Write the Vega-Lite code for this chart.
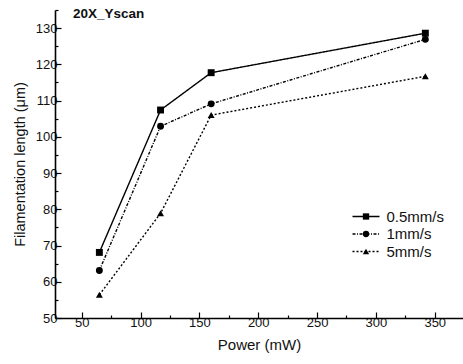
{
  "$schema": "https://vega.github.io/schema/vega-lite/v6.json",
  "width": 408,
  "height": 308,
  "autosize": {"type": "none"},
  "padding": {"left": 55, "top": 10, "right": 0, "bottom": 46},
  "background": "white",
  "config": {"view": {"stroke": null}, "font": "Liberation Sans"},
  "title": {"text": "20X_Yscan", "anchor": "start", "frame": "group", "offset": -11, "dx": 18, "fontSize": 13.5, "fontWeight": "bold", "font": "Liberation Sans", "color": "#111"},
  "data": {
    "values": [
      {"speed": "0.5mm/s", "dash": "d1", "power": 65, "length": 68.1},
      {"speed": "0.5mm/s", "dash": "d1", "power": 117, "length": 107.4},
      {"speed": "0.5mm/s", "dash": "d1", "power": 160, "length": 117.7},
      {"speed": "0.5mm/s", "dash": "d1", "power": 342, "length": 128.6},
      {"speed": "1mm/s", "dash": "d2", "power": 65, "length": 63.1},
      {"speed": "1mm/s", "dash": "d2", "power": 117, "length": 102.9},
      {"speed": "1mm/s", "dash": "d2", "power": 160, "length": 109.1},
      {"speed": "1mm/s", "dash": "d2", "power": 342, "length": 126.9},
      {"speed": "5mm/s", "dash": "d3", "power": 65, "length": 56.4},
      {"speed": "5mm/s", "dash": "d3", "power": 117, "length": 78.9},
      {"speed": "5mm/s", "dash": "d3", "power": 160, "length": 106.0},
      {"speed": "5mm/s", "dash": "d3", "power": 342, "length": 116.7}
    ]
  },
  "encoding": {
    "x": {
      "field": "power", "type": "quantitative",
      "scale": {"domain": [27.3, 374], "nice": false, "zero": false},
      "axis": {
        "title": "Power (mW)", "titleFontSize": 15, "titleFontWeight": "normal", "titleColor": "#111", "titlePadding": 8,
        "values": [50, 75, 100, 125, 150, 175, 200, 225, 250, 275, 300, 325, 350],
        "labelExpr": "datum.value % 50 === 0 ? datum.label : ''",
        "labelFontSize": 13, "labelColor": "#111", "labelPadding": 4, "labelFlush": false,
        "tickSize": {"condition": {"test": "datum.value % 50 === 0", "value": -6}, "value": -3},
        "tickColor": "black", "tickWidth": 1.2,
        "domainColor": "black", "domainWidth": 1.6, "grid": false
      }
    },
    "y": {
      "field": "length", "type": "quantitative",
      "scale": {"domain": [50, 135], "nice": false, "zero": false},
      "axis": {
        "title": "Filamentation length (μm)", "titleFontSize": 14.5, "titleFontWeight": "normal", "titleColor": "#111", "titlePadding": 8,
        "values": [50, 55, 60, 65, 70, 75, 80, 85, 90, 95, 100, 105, 110, 115, 120, 125, 130, 135],
        "labelExpr": "datum.value % 10 === 0 && datum.value <= 130 ? datum.label : ''",
        "labelFontSize": 13, "labelColor": "#111", "labelPadding": 4, "labelFlush": false,
        "tickSize": {"condition": {"test": "datum.value % 10 === 0", "value": -6}, "value": -3},
        "tickColor": "black", "tickWidth": 1.2,
        "domainColor": "black", "domainWidth": 1.6, "grid": false
      }
    }
  },
  "resolve": {"legend": {"shape": "independent", "strokeDash": "independent"}},
  "layer": [
    {
      "mark": {"type": "line", "strokeWidth": 1.4, "color": "black"},
      "encoding": {
        "strokeDash": {
          "field": "dash", "type": "nominal",
          "scale": {"domain": ["d1", "d2", "d3"], "range": [[1, 0], [3, 1.5, 1, 1.5], [2, 2]]},
          "legend": {
            "title": null, "orient": "none", "legendX": 303.5, "legendY": 199,
            "symbolType": "M-2,0H2", "symbolSize": 182, "symbolStrokeColor": "black", "symbolStrokeWidth": 1.4, "symbolFillColor": "transparent",
            "labelFontSize": 15, "labelExpr": "''", "rowPadding": 1.5, "padding": 0
          }
        }
      }
    },
    {
      "mark": {"type": "point", "filled": true, "color": "black", "size": 48, "opacity": 1},
      "encoding": {
        "shape": {
          "field": "speed", "type": "nominal",
          "scale": {"domain": ["0.5mm/s", "1mm/s", "5mm/s"], "range": ["square", "circle", "triangle-up"]},
          "legend": {
            "title": null, "orient": "none", "legendX": 303.5, "legendY": 199,
            "symbolFillColor": "black", "symbolStrokeColor": "black", "symbolSize": 40, "symbolOpacity": 1,
            "labelFontSize": 15, "labelColor": "#111", "labelOffset": 13, "rowPadding": 1.5, "padding": 0
          }
        }
      }
    }
  ]
}
